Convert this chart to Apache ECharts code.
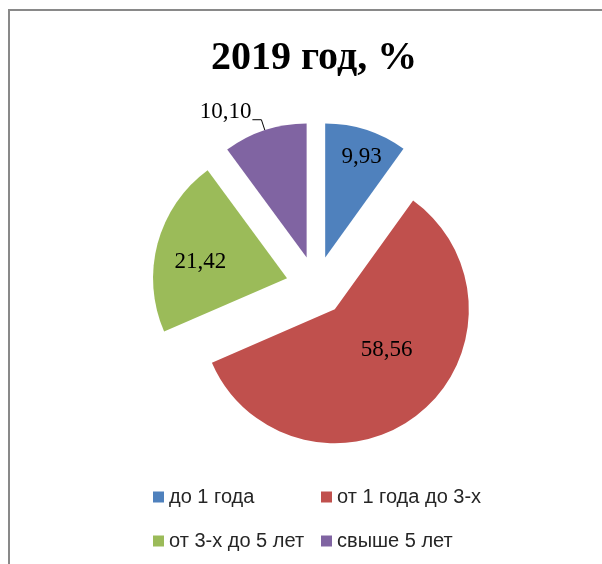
<!DOCTYPE html>
<html>
<head>
<meta charset="utf-8">
<script src="https://cdn.jsdelivr.net/npm/echarts@6/dist/echarts.min.js"></script>
<style>
  html, body { margin: 0; padding: 0; background: #fff; }
  #chart { width: 602px; height: 564px; }
</style>
</head>
<body>
<div id="chart"></div>
<script>
  // данные диаграммы
  var categories = ['до 1 года', 'от 1 года до 3-х', 'от 3-х до 5 лет', 'свыше 5 лет'];
  var values = [9.93, 58.56, 21.42, 10.10];
  var colors = ['#4F81BD', '#C0504D', '#9BBB59', '#8064A2'];
  var valueLabels = ['9,93', '58,56', '21,42', '10,10'];

  // сдвиг подписей [dx, dy]
  var labelShift = [[15, -34], [8, -14], [-19, 2], [4, -8]];

  var chart = echarts.init(document.getElementById('chart'));

  var pieData = categories.map(function (name, i) {
    var item = {
      name: name,
      value: values[i],
      selected: true,
      itemStyle: { color: colors[i] },
      label: { formatter: valueLabels[i] }
    };
    if (i === 3) {
      item.label = {
        position: 'outside',
        formatter: valueLabels[i]
      };
      item.labelLine = {
        show: true,
        length: 11,
        length2: 9,
        lineStyle: { color: '#000', width: 1 }
      };
    }
    return item;
  });

  var legendText = {
    fontFamily: 'Liberation Sans',
    fontSize: 20,
    color: '#262626'
  };

  var option = {
    animation: false,
    backgroundColor: '#fff',
    title: {
      text: '2019 год, %',
      left: 309,
      top: 34,
      textAlign: 'center',
      textStyle: {
        fontFamily: 'Liberation Serif',
        fontWeight: 'bold',
        fontSize: 40,
        color: '#000'
      }
    },
    legend: [
      {
        orient: 'vertical',
        left: 148,
        top: 482,
        itemWidth: 11,
        itemHeight: 11,
        itemGap: 24,
        icon: 'rect',
        selectedMode: false,
        data: [categories[0], categories[2]],
        textStyle: legendText
      },
      {
        orient: 'vertical',
        left: 316,
        top: 482,
        itemWidth: 11,
        itemHeight: 11,
        itemGap: 24,
        icon: 'rect',
        selectedMode: false,
        data: [categories[1], categories[3]],
        textStyle: legendText
      }
    ],
    graphic: [
      {
        type: 'rect',
        shape: { x: 9, y: 10, width: 800, height: 800 },
        style: { fill: 'none', stroke: '#898989', lineWidth: 2 },
        silent: true
      }
    ],
    series: [
      {
        type: 'pie',
        center: [316, 286],
        radius: 134,
        startAngle: 90,
        clockwise: true,
        selectedMode: 'multiple',
        selectedOffset: 30,
        avoidLabelOverlap: false,
        silent: true,
        label: {
          show: true,
          position: 'inside',
          fontFamily: 'Liberation Serif',
          fontSize: 23,
          color: '#000'
        },
        labelLine: { show: false },
        labelLayout: function (p) {
          return { dx: labelShift[p.dataIndex][0], dy: labelShift[p.dataIndex][1] };
        },
        emphasis: { disabled: true },
        data: pieData
      }
    ]
  };

  chart.setOption(option);
</script>
</body>
</html>
